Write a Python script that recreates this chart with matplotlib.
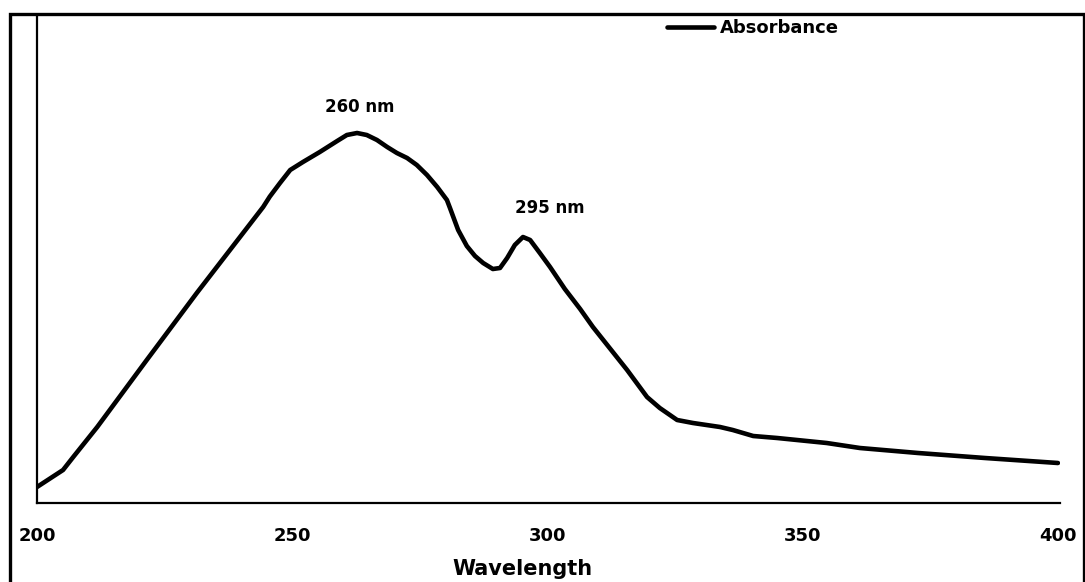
import matplotlib.pyplot as plt
from matplotlib.patches import Rectangle

# UV-Vis spectrum (absorbance in arbitrary units)
wavelength = [200, 205.1, 207.1, 211.8, 221.5, 231.3, 244.3, 245.6, 247.6, 249.6,
              252.1, 255.4, 258.8, 260.7, 262.7, 264.6, 266.6, 268.6, 270.5, 272.5,
              274.4, 276.4, 278.4, 280.3, 280.9, 282.5, 284.2, 285.8, 287.4, 289.3,
              290.7, 292.1, 293.6, 295.2, 296.6, 298.5, 300.5, 303.4, 306.4, 308.9,
              315.6, 319.5, 322.0, 325.4, 328.5, 333.8, 336.3, 340.3, 345.0, 354.7,
              361.2, 372.6, 385.7, 400]
absorbance = [0.04, 0.0825, 0.115, 0.19, 0.3575, 0.525, 0.74, 0.766, 0.80, 0.8325,
              0.8525, 0.8775, 0.905, 0.92, 0.925, 0.92, 0.9075, 0.89, 0.875, 0.8625,
              0.845, 0.82, 0.79, 0.7575, 0.7375, 0.6825, 0.6425, 0.6175, 0.60, 0.585,
              0.5875, 0.6125, 0.645, 0.665, 0.6575, 0.625, 0.59, 0.535, 0.485, 0.44,
              0.3325, 0.265, 0.2375, 0.2075, 0.20, 0.19, 0.1825, 0.1675, 0.1625, 0.15,
              0.1375, 0.125, 0.1125, 0.10]

x_ticks = [200, 250, 300, 350, 400]
peak_labels = ['260 nm', '295 nm']
peak_pos = [(263.3, 0.99), (300.5, 0.7375)]

fig = plt.figure(figsize=(10.85, 5.82), dpi=100)
ax = fig.add_axes([37 / 1085, 1 - 503 / 582, (1060 - 37) / 1085, (503 - 15) / 582])

ax.plot(wavelength, absorbance, color='black', lw=3.3, solid_joinstyle='round',
        solid_capstyle='round', label='Absorbance')

ax.set_xlim(200, 400.4)
ax.set_ylim(0, 1.22)
ax.set_xticks(x_ticks)
ax.set_xticklabels([str(t) for t in x_ticks], fontsize=13, fontweight='bold')
ax.set_yticks([])
ax.tick_params(axis='x', length=0, pad=17)

for s in ['top', 'right']:
    ax.spines[s].set_visible(False)
for s in ['left', 'bottom']:
    ax.spines[s].set_linewidth(1.6)
    ax.spines[s].set_color('black')

for txt, (px, py) in zip(peak_labels, peak_pos):
    ax.text(px, py, txt, ha='center', va='center', fontsize=12, fontweight='bold')

ax.legend(loc='upper left', bbox_to_anchor=(0.6, 1.025), frameon=False,
          handlelength=2.6, handletextpad=0.3, prop={'weight': 'bold', 'size': 13})

fig.text(522 / 1085, 1 - 569 / 582, 'Wavelength', ha='center', va='center',
         fontsize=15, fontweight='bold')

# outer frame (open at the bottom edge)
fig.add_artist(Rectangle((9.5 / 1085, -0.02), (1084 - 9.5) / 1085, 1 - 13.5 / 582 + 0.02,
                         transform=fig.transFigure, fill=False, lw=2.4, ec='black'))

fig.savefig('out.png', dpi=100)
